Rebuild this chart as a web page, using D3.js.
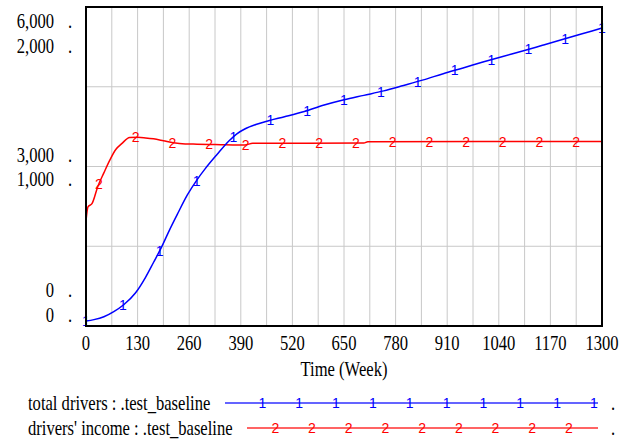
<!DOCTYPE html>
<html><head><meta charset="utf-8">
<script src="https://cdn.jsdelivr.net/npm/d3@7"></script>
<style>body{margin:0;background:#fff}svg{display:block}</style>
</head><body>
<script>
// ---- data ----
const xTicks = [0,130,260,390,520,650,780,910,1040,1170,1300];
const leftLabelsTop = ["6,000","2,000"];
const leftLabelsMid = ["3,000","1,000"];
const leftLabelsBot = ["0","0"];
const timeDrivers = [0,20,45,70,95,125,150,170,190,210,230,255,280,300,330,360,380,400,430,460,500,550,600,650,700,750,800,850,900,950,1000,1050,1100,1150,1200,1250,1300];
const totalDrivers = [31,40,58,90,133,208,305,398,493,600,700,820,918,985,1075,1160,1205,1235,1265,1287,1312,1345,1385,1418,1446,1474,1508,1543,1582,1618,1655,1690,1724,1760,1796,1832,1868];
const timeIncome = [0,5,15,30,45,60,75,90,110,130,150,170,195,220,250,280,310,340,370,400,420,700,710,1000,1300];
const driversIncome = [1980,2240,2300,2630,2880,3120,3320,3430,3545,3550,3538,3520,3485,3448,3425,3420,3415,3410,3405,3405,3436,3440,3467,3470,3470];
const seriesNames = ["total drivers : .test_baseline","drivers' income : .test_baseline"];

const W=632,H=441;
const L=86,R=602,T=7,B=326;
const svg=d3.select("body").append("svg").attr("width",W).attr("height",H);
const x=d3.scaleLinear().domain([0,1300]).range([L,R]);
const yD=d3.scaleLinear().domain([0,2000]).range([B,T]);
const yI=d3.scaleLinear().domain([0,6000]).range([B,T]);
const SX=0.79, FS=21, FONT="'Liberation Serif','Times New Roman',serif";

function txt(xp,yp,s,anchor){
  svg.append("text").attr("transform",`translate(${xp},${yp}) scale(${SX},1)`)
    .attr("text-anchor",anchor||"start").attr("font-family",FONT).attr("font-size",FS).attr("fill","#000").text(s);
}

// grid
const g=svg.append("g");
const vgrid=d3.range(0,1300+1,65);
g.selectAll("line.v").data(vgrid).join("line").attr("x1",d=>x(d)).attr("x2",d=>x(d)).attr("y1",T).attr("y2",B)
  .attr("stroke","#c8c8c8").attr("stroke-width",1);
const hgrid=[0,500,1000,1500,2000];
g.selectAll("line.h").data(hgrid).join("line").attr("x1",L).attr("x2",R).attr("y1",d=>yD(d)).attr("y2",d=>yD(d))
  .attr("stroke","#c8c8c8").attr("stroke-width",1);

function interp(ts,vs,t){
  for(let i=1;i<ts.length;i++){ if(t<=ts[i]){const f=(t-ts[i-1])/(ts[i]-ts[i-1]);return vs[i-1]+f*(vs[i]-vs[i-1]);}}
  return vs[vs.length-1];
}
const lineD=d3.line().x(d=>x(d[0])).y(d=>yD(d[1])).curve(d3.curveMonotoneX);
const lineI=d3.line().x(d=>x(d[0])).y(d=>yI(d[1])).curve(d3.curveMonotoneX);
const dD=timeDrivers.map((t,i)=>[t,totalDrivers[i]]);
const dI=timeIncome.map((t,i)=>[t,driversIncome[i]]);
svg.append("path").attr("d",lineI(dI)).attr("fill","none").attr("stroke","#ff0000").attr("stroke-width",1.5);
svg.append("path").attr("d",lineD(dD)).attr("fill","none").attr("stroke","#0000ff").attr("stroke-width",1.5);

// markers
const MF="'Liberation Sans',Arial,sans-serif", MS=14;
const mD=d3.range(0,15).map(k=>k*1300/14);
svg.selectAll("text.m1").data(mD).join("text").attr("x",d=>x(d)).attr("y",d=>yD(interp(timeDrivers,totalDrivers,d)))
  .attr("text-anchor","middle").attr("dy","0.36em").attr("font-family",MF).attr("font-size",MS).attr("fill","#0000ff").text("1");
const mI=d3.range(0,14).map(k=>32.5+k*92.5);
svg.selectAll("text.m2").data(mI).join("text").attr("x",d=>x(d)).attr("y",d=>yI(interp(timeIncome,driversIncome,d)))
  .attr("text-anchor","middle").attr("dy","0.36em").attr("font-family",MF).attr("font-size",MS).attr("fill","#ff0000").text("2");

// frame
svg.append("rect").attr("x",L).attr("y",T).attr("width",R-L).attr("height",B-T).attr("fill","none").attr("stroke","#000").attr("stroke-width",2);

// left labels
function pair(labels,y1){
  labels.forEach((s,i)=>{const yy=y1+i*24.5; txt(54,yy,s,"end"); txt(68,yy,".","start");});
}
pair(leftLabelsTop,yD(2000)+21);
pair(leftLabelsMid,yD(1000)-5);
pair(leftLabelsBot,yD(0)-29);

// x ticks
xTicks.forEach(t=>txt(x(t),350,String(t),"middle"));
txt((L+R)/2,376,"Time (Week)","middle");

// legend
txt(28,410,seriesNames[0],"start");
txt(28,435,seriesNames[1],"start");
svg.append("line").attr("x1",225).attr("x2",598).attr("y1",403).attr("y2",403).attr("stroke","#3030ff").attr("stroke-width",1.5);
svg.append("line").attr("x1",247).attr("x2",598).attr("y1",428).attr("y2",428).attr("stroke","#ff3030").attr("stroke-width",1.5);
svg.selectAll("text.l1").data(d3.range(10)).join("text").attr("x",d=>262.3+d*36.85).attr("y",403).attr("dy","0.36em")
  .attr("text-anchor","middle").attr("font-family",MF).attr("font-size",MS).attr("fill","#0000ff").text("1");
svg.selectAll("text.l2").data(d3.range(9)).join("text").attr("x",d=>275.3+d*36.7).attr("y",428).attr("dy","0.36em")
  .attr("text-anchor","middle").attr("font-family",MF).attr("font-size",MS).attr("fill","#ff0000").text("2");
txt(611,410,".","start");
txt(611,435,".","start");
</script>
</body></html>
